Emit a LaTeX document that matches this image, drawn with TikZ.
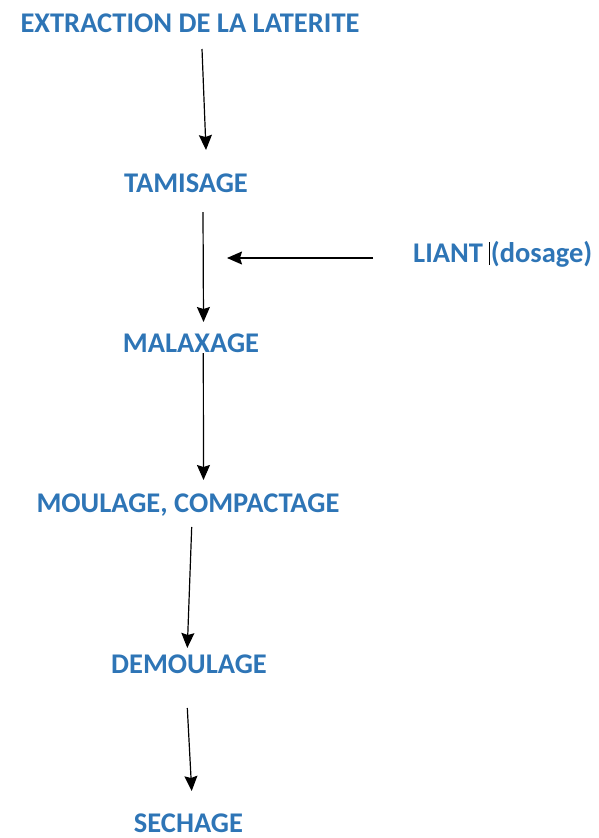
\documentclass[tikz,border=0pt]{standalone}
\usepackage{fontspec}
\setmainfont{Carlito}
\usepackage{tikz}
\usetikzlibrary{calc,arrows.meta}

\definecolor{stepblue}{RGB}{46,117,182}

\tikzset{
  stage/.style={anchor=base, inner sep=0pt, text=stepblue,
    font=\fontsize{28.5}{33}\selectfont\bfseries},
  flow/.style={line width=1.2pt, -{Stealth[length=15pt,width=13pt,inset=2pt]}}
}

\begin{document}
\begin{tikzpicture}[x=1pt,y=-1pt]

\useasboundingbox (0,0) rectangle (598,838);

% ============================
% STAGES
% ============================

\node[stage] (extraction) at (190,32) {EXTRACTION DE LA LATERITE};
\node[stage] (tamisage) at (186,192) {TAMISAGE};
\node[stage] (malaxage) at (191,352) {MALAXAGE};
\node[stage] (moulage) at (188,512) {MOULAGE, COMPACTAGE};
\node[stage] (demoulage) at (189,673) {DEMOULAGE};
\node[stage] (sechage) at (188.5,832) {SECHAGE};

% ============================
% BINDER INPUT
% ============================

\node[stage, anchor=base west] (liant) at (413,262)
  {LIANT\kern6pt\textcolor{black}{\rule[-3pt]{0.9pt}{23pt}}\kern1pt(dosage)};
\coordinate (dosage) at (227,258);

% ============================
% ARROWS
% ============================

\draw[flow] ($(extraction.base)+(12,17)$) -- ($(tamisage.base)+(20,-42)$);
\draw[flow] ($(tamisage.base)+(17,20)$) -- ($(malaxage.base)+(12.5,-30)$);
\draw[flow] ($(malaxage.base)+(12.3,1)$) -- ($(moulage.base)+(15.5,-32)$);
\draw[flow] ($(moulage.base)+(3.7,15)$) -- ($(demoulage.base)+(-1.7,-25)$);
\draw[flow] ($(demoulage.base)+(-1.7,35)$) -- ($(sechage.base)+(3.2,-41)$);
\draw[flow] ($(liant.base west)+(-40,-4)$) -- (dosage);

\end{tikzpicture}
\end{document}
